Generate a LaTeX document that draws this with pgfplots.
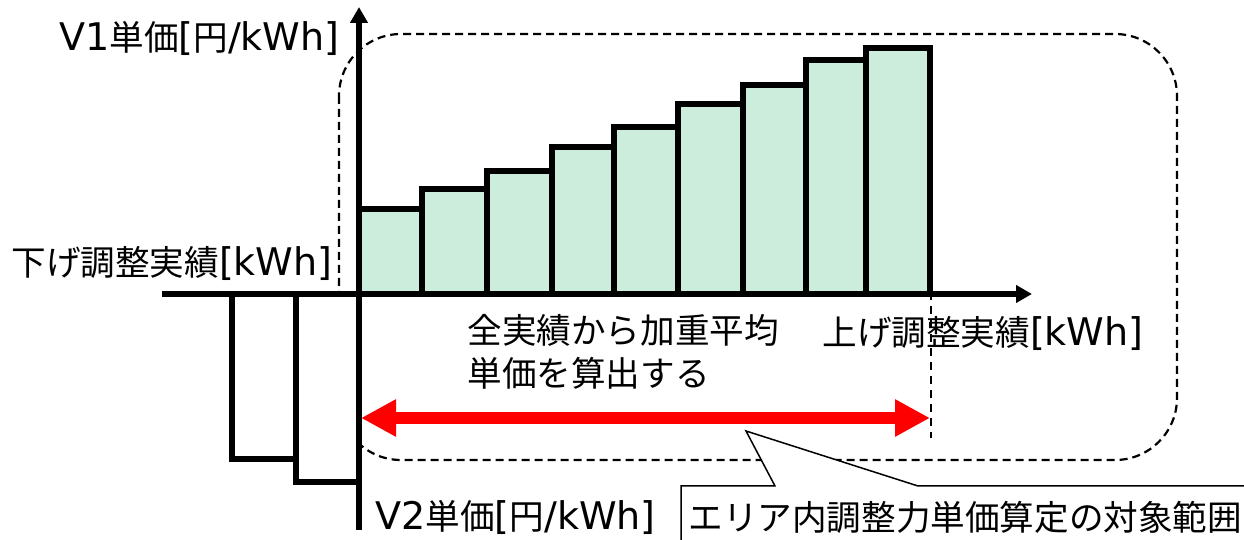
\documentclass[border=0pt]{standalone}
\usepackage{fontspec}
\setmainfont{Noto Sans CJK JP}
\newfontfamily\lat{DejaVu Sans}[Scale=1.1]
\usepackage{pgfplots}
\pgfplotsset{compat=1.18}
\usetikzlibrary{arrows.meta}

\definecolor{barfill}{HTML}{CCECDC}
\definecolor{arrred}{HTML}{FF0000}

% bar edges (x) and heights (y); last point closes the interval
\pgfplotstableread{
x   y
0   85
63  105
128 123
193 147
255 167
319 190
384 209
447 234
507 246
571 246
}\upbars
\pgfplotstableread{
x    y
-127 -165
-63  -188
0    -188
}\downbars

\begin{document}
\begin{tikzpicture}[font=\fontsize{17.3pt}{21pt}\selectfont]
\begin{axis}[
    width=622pt, height=270pt, scale only axis,
    xmin=-359, xmax=885, ymin=-246, ymax=294,
    axis lines=none, clip=false,
]
% dashed area frame
\draw[black, line width=1.1pt, dash pattern=on 4pt off 2.5pt, rounded corners=31pt]
    (-20,260) rectangle (818,-166);

\addplot[ybar interval, fill=barfill, draw=black, line width=2.6pt]
    table[x=x, y=y] {\upbars};
\addplot[ybar interval, fill=white, draw=black, line width=2.6pt]
    table[x=x, y=y] {\downbars};

% axes
\draw[line width=3.2pt, -{Triangle[length=8pt,width=8.5pt]}] (-197,0) -- (673,0);
\draw[line width=3.2pt, -{Triangle[length=8pt,width=8.5pt]}] (0,-236) -- (0,287);

% end of range
\draw[black, line width=0.8pt, dash pattern=on 4pt off 3pt] (572,114) -- (572,-144);

% red range arrow
\draw[arrred, line width=6pt,
      {Triangle[length=17.5pt,width=17.5pt]}-{Triangle[length=17.5pt,width=17.5pt]}]
    (2,-124) -- (571,-124);

% callout
\fill[white] (322,-260) -- (322,-192) -- (416,-192) -- (387,-137) -- (559,-192)
    -- (891,-192) -- (891,-260) -- cycle;
\draw[black, line width=0.75pt] (322,-260) -- (322,-192) -- (416,-192) -- (387,-137)
    -- (559,-192) -- (891,-192);

% labels
\node[anchor=east, inner sep=0pt] at (-19,256) {{\lat V1}単価{\lat [}円{\lat /kWh]}};
\node[anchor=east, inner sep=0pt] at (-26,31) {下げ調整実績{\lat [kWh]}};
\node[anchor=west, inner sep=0pt] at (108,-36) {全実績から加重平均};
\node[anchor=west, inner sep=0pt] at (108,-79) {単価を算出する};
\node[anchor=west, inner sep=0pt] at (463,-39) {上げ調整実績{\lat [kWh]}};
\node[anchor=west, inner sep=0pt] at (16,-223) {{\lat V2}単価{\lat [}円{\lat /kWh]}};
\node[anchor=west, inner sep=0pt] at (329,-223) {エリア内調整力単価算定の対象範囲};
\end{axis}
\pgfresetboundingbox
\path (current axis.south west) rectangle (current axis.north east);
\end{tikzpicture}
\end{document}
